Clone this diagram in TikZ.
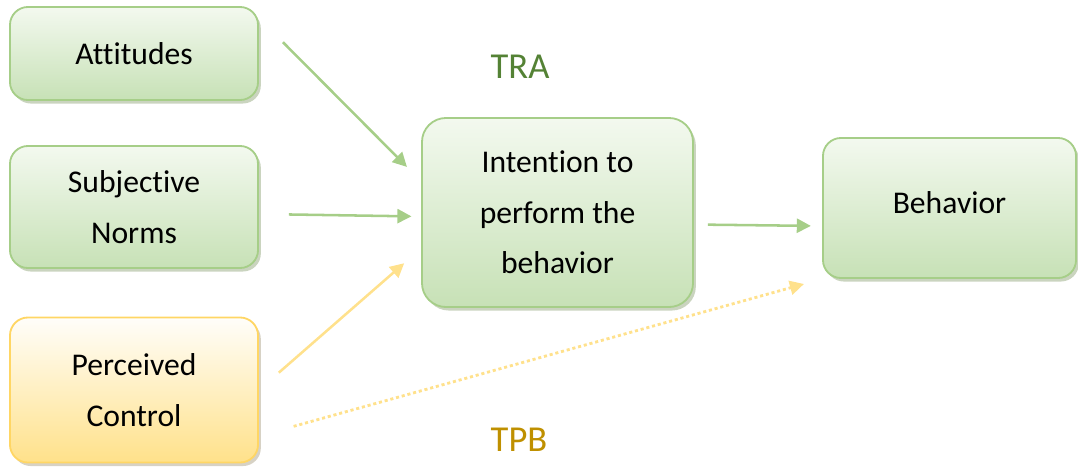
\documentclass[tikz,border=0pt]{standalone}
\usepackage{fontspec}
\setmainfont[Ligatures=NoCommon]{Carlito}
\usetikzlibrary{arrows.meta,shadows}
\definecolor{grnline}{RGB}{166,206,136}
\definecolor{grntop}{RGB}{243,249,239}
\definecolor{grnbot}{RGB}{199,225,182}
\definecolor{ylwline}{RGB}{255,214,100}
\definecolor{ylwtop}{RGB}{255,254,250}
\definecolor{ylwbot}{RGB}{255,225,138}
\definecolor{ylwarrow}{RGB}{255,225,140}
\definecolor{tracol}{RGB}{84,130,53}
\definecolor{tpbcol}{RGB}{191,144,0}
\definecolor{grnshade}{RGB}{150,170,128}
\definecolor{ylwshade}{RGB}{175,165,140}

\begin{document}
\begin{tikzpicture}[
  x=0.025cm, y=-0.025cm,
  font=\fontsize{22.5}{36}\selectfont,
  base/.style={line width=1.3pt,rounded corners=0.45cm,align=center,inner sep=0pt},
  block/.style={base,draw=grnline,top color=grntop,bottom color=grnbot,
    drop shadow={shadow xshift=2pt,shadow yshift=-2.5pt,fill=grnshade}},
  yblock/.style={base,draw=ylwline,top color=ylwtop,bottom color=ylwbot,
    drop shadow={shadow xshift=2pt,shadow yshift=-2.5pt,fill=ylwshade}},
  flow/.style={-{Triangle[length=10pt,width=10pt]},line width=1.8pt,draw=grnline},
  yflow/.style={flow,draw=ylwarrow},
  dotflow/.style={yflow,line width=2pt,dash pattern=on 2.2pt off 2pt},
  lab/.style={font=\fontsize{26}{30}\selectfont,inner sep=0pt}
]
\useasboundingbox (0,0) rectangle (1078,469);
\node[block,minimum width=6.2cm,minimum height=2.325cm] (att) at (134,53.5) {Attitudes};
\node[block,minimum width=6.2cm,minimum height=3.05cm] (sn) at (134,207) {Subjective\\Norms};
\node[yblock,minimum width=6.2cm,minimum height=3.625cm] (pc) at (134,390) {Perceived\\Control};
\node[block,rounded corners=0.6cm,minimum width=6.775cm,minimum height=4.725cm] (int) at (557.5,212.5) {Intention to\\perform the\\behavior};
\node[block,minimum width=6.325cm,minimum height=3.5cm,text depth=0.75em] (beh) at (949.5,208) {Behavior};
\node[lab,text=tracol] (tra) at (520,67) {TRA};
\node[lab,text=tpbcol] (tpb) at (519,440) {TPB};
% TRA paths
\draw[flow,shorten <=0.85cm,shorten >=0.5cm] ([yshift=-0.3cm]att.north east) -- ([yshift=-1.6cm]int.north west);
\draw[flow,shorten <=0.75cm,shorten >=0.24cm] ([yshift=-0.175cm]sn.east) -- ([yshift=-0.1cm]int.west);
\draw[flow,shorten <=0.35cm,shorten >=0.28cm] ([yshift=-0.3cm]int.east) -- ([yshift=-0.45cm]beh.west);
% TPB paths
\draw[yflow,shorten <=0.66cm,shorten >=0.56cm] (pc.east) -- ([yshift=-0.9cm]int.west);
\draw[dotflow,shorten <=0.9cm,shorten >=0.47cm] ([yshift=-1.15cm]pc.east) -- (beh.south west);
\end{tikzpicture}
\end{document}
